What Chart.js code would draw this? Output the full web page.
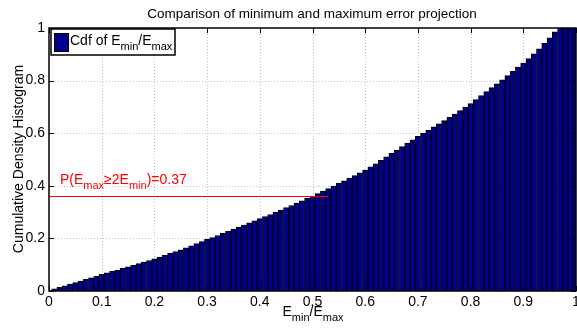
<!DOCTYPE html>
<html>
<head>
<meta charset="utf-8">
<script src="https://cdn.jsdelivr.net/npm/chart.js@4.4.0/dist/chart.umd.min.js"></script>
<style>
  html, body { margin: 0; padding: 0; background: #fff; }
  #wrap { width: 577px; height: 331px; position: relative; }
</style>
</head>
<body>
<div id="wrap"><canvas id="cdfChart"></canvas></div>
<script>
// cumulative density per bin (100 bins, centres 0.01 .. 1.00)
const cdfValues = [
  0.008, 0.014, 0.020, 0.026, 0.032, 0.038, 0.044, 0.050, 0.056, 0.063,
  0.069, 0.075, 0.080, 0.086, 0.092, 0.098, 0.104, 0.110, 0.116, 0.122,
  0.129, 0.136, 0.143, 0.150, 0.157, 0.164, 0.172, 0.180, 0.188, 0.196,
  0.203, 0.211, 0.219, 0.227, 0.235, 0.243, 0.251, 0.259, 0.267, 0.275,
  0.283, 0.291, 0.300, 0.308, 0.317, 0.325, 0.334, 0.343, 0.352, 0.361,
  0.370, 0.380, 0.389, 0.399, 0.409, 0.419, 0.429, 0.439, 0.449, 0.460,
  0.472, 0.484, 0.497, 0.510, 0.523, 0.536, 0.549, 0.562, 0.575, 0.588,
  0.600, 0.612, 0.624, 0.636, 0.648, 0.660, 0.673, 0.686, 0.699, 0.713,
  0.728, 0.743, 0.758, 0.773, 0.788, 0.803, 0.819, 0.835, 0.851, 0.867,
  0.884, 0.902, 0.921, 0.942, 0.963, 0.985, 1.000, 1.000, 1.000, 1.000
];
const binCenters = cdfValues.map((_, i) => (i + 1) / 100);

const xTicks = [0, 0.1, 0.2, 0.3, 0.4, 0.5, 0.6, 0.7, 0.8, 0.9, 1];
const yTicks = [0, 0.2, 0.4, 0.6, 0.8, 1];

// red marker: P(Emax >= 2 Emin)
const thresholdLevel = 0.363;
const thresholdEnd = 0.53;

const FONT = '"Liberation Sans", Arial, Helvetica, sans-serif';

// draws text with subscript runs, parts = [[text, isSub], ...]
function drawSubText(ctx, parts, x, y, size, align) {
  const subSize = Math.round(size * 0.78);
  let total = 0;
  parts.forEach(([t, sub]) => {
    ctx.font = `${sub ? subSize : size}px ${FONT}`;
    total += ctx.measureText(t).width;
  });
  let cx = align === 'center' ? x - total / 2 : x;
  parts.forEach(([t, sub]) => {
    ctx.font = `${sub ? subSize : size}px ${FONT}`;
    ctx.fillText(t, cx, sub ? y + size * 0.38 : y);
    cx += ctx.measureText(t).width;
  });
  return total;
}

const matlabAxes = {
  id: 'matlabAxes',
  beforeDatasetsDraw(chart) {
    const { ctx, chartArea: a, scales: { x, y } } = chart;
    ctx.save();
    ctx.strokeStyle = '#bdbdbd';
    ctx.lineWidth = 1;
    ctx.setLineDash([1, 2]);
    xTicks.slice(1, -1).forEach(v => {
      const px = Math.round(x.getPixelForValue(v)) + 0.5;
      ctx.beginPath(); ctx.moveTo(px, a.top); ctx.lineTo(px, a.bottom); ctx.stroke();
    });
    yTicks.slice(1, -1).forEach(v => {
      const py = Math.round(y.getPixelForValue(v)) + 0.5;
      ctx.beginPath(); ctx.moveTo(a.left, py); ctx.lineTo(a.right, py); ctx.stroke();
    });
    ctx.restore();
  },
  afterDraw(chart) {
    const { ctx, chartArea: a, scales: { x, y } } = chart;
    ctx.save();

    // threshold line
    const ty = Math.round(y.getPixelForValue(thresholdLevel)) + 0.5;
    ctx.strokeStyle = '#ff0000';
    ctx.lineWidth = 1;
    ctx.beginPath();
    ctx.moveTo(x.getPixelForValue(0), ty);
    ctx.lineTo(x.getPixelForValue(thresholdEnd), ty);
    ctx.stroke();
    ctx.fillStyle = '#ff0000';
    ctx.textBaseline = 'alphabetic';
    ctx.textAlign = 'left';
    drawSubText(ctx, [['P(E', false], ['max', true], ['\u22652E', false], ['min', true], [')=0.37', false]],
      60, ty - 13, 14, 'left');

    // axes box
    ctx.strokeStyle = '#000';
    ctx.lineWidth = 1.5;
    ctx.strokeRect(a.left, a.top, a.right - a.left, a.bottom - a.top);

    // inward tick marks
    ctx.lineWidth = 1;
    xTicks.forEach(v => {
      const px = Math.round(x.getPixelForValue(v)) + 0.5;
      ctx.beginPath();
      ctx.moveTo(px, a.bottom); ctx.lineTo(px, a.bottom - 5);
      ctx.moveTo(px, a.top); ctx.lineTo(px, a.top + 5);
      ctx.stroke();
    });
    yTicks.forEach(v => {
      const py = Math.round(y.getPixelForValue(v)) + 0.5;
      ctx.beginPath();
      ctx.moveTo(a.left, py); ctx.lineTo(a.left + 5, py);
      ctx.moveTo(a.right, py); ctx.lineTo(a.right - 5, py);
      ctx.stroke();
    });

    // legend
    ctx.fillStyle = '#fff';
    ctx.fillRect(51, 29, 124, 26);
    ctx.lineWidth = 1.5;
    ctx.strokeRect(51, 29, 124, 26);
    ctx.fillStyle = '#00008C';
    ctx.fillRect(54, 33, 14, 18);
    ctx.strokeStyle = '#000';
    ctx.lineWidth = 1;
    ctx.strokeRect(54.5, 33.5, 14, 18);
    ctx.fillStyle = '#000';
    drawSubText(ctx, [['Cdf of E', false], ['min', true], ['/E', false], ['max', true]], 70, 45, 14, 'left');

    // title
    ctx.fillStyle = '#000';
    ctx.font = `13.5px ${FONT}`;
    ctx.textAlign = 'center';
    ctx.fillText('Comparison of minimum and maximum error projection', 312, 18);

    // x label
    ctx.textAlign = 'left';
    drawSubText(ctx, [['E', false], ['min', true], ['/E', false], ['max', true]], 313, 316, 14, 'center');

    // y label
    ctx.translate(23, 159);
    ctx.rotate(-Math.PI / 2);
    ctx.textAlign = 'center';
    ctx.font = `14px ${FONT}`;
    ctx.fillText('Cumulative Density Histogram', 0, 0);

    ctx.restore();
  }
};

new Chart(document.getElementById('cdfChart'), {
  type: 'bar',
  data: {
    datasets: [{
      label: 'Cdf of Emin/Emax',
      data: binCenters.map((c, i) => ({ x: c, y: cdfValues[i] })),
      backgroundColor: '#00008C',
      borderColor: '#000000',
      borderWidth: 1,
      barPercentage: 1,
      categoryPercentage: 1,
      clip: 0
    }]
  },
  options: {
    responsive: true,
    maintainAspectRatio: false,
    animation: false,
    layout: { padding: { top: 28, right: 1, left: 0, bottom: 0 } },
    plugins: {
      legend: { display: false },
      title: { display: false },
      tooltip: { enabled: false }
    },
    scales: {
      x: {
        type: 'linear',
        min: 0,
        max: 1,
        offset: false,
        grid: { display: false, drawTicks: false },
        border: { display: false },
        afterBuildTicks: scale => { scale.ticks = xTicks.map(v => ({ value: v })); },
        afterFit: scale => {
          scale.height = 40;
          scale.paddingLeft = 0;
          scale.paddingRight = 0;
        },
        ticks: {
          callback: v => String(v),
          color: '#000',
          padding: 3,
          maxRotation: 0,
          autoSkip: false,
          font: { family: FONT, size: 14 }
        }
      },
      y: {
        min: 0,
        max: 1,
        grid: { display: false, drawTicks: false },
        border: { display: false },
        afterBuildTicks: scale => { scale.ticks = yTicks.map(v => ({ value: v })); },
        afterFit: scale => {
          scale.width = 49;
          scale.paddingTop = 0;
          scale.paddingBottom = 0;
        },
        ticks: {
          callback: v => String(v),
          color: '#000',
          padding: 4,
          font: { family: FONT, size: 14 }
        }
      }
    }
  },
  plugins: [matlabAxes]
});
</script>
</body>
</html>
